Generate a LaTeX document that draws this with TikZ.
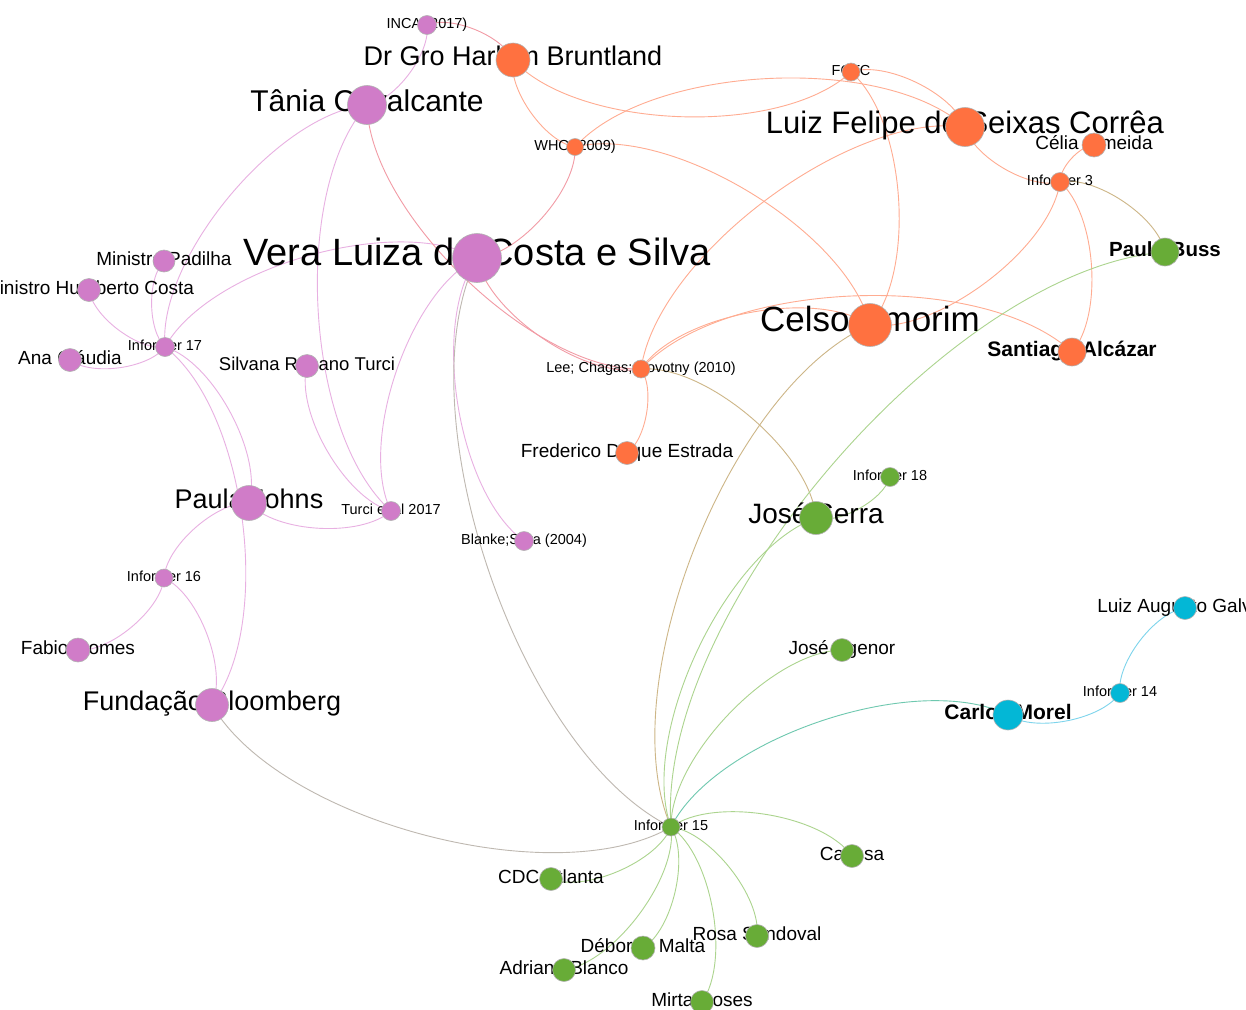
\documentclass[tikz,border=0pt]{standalone}
\usepackage{fontspec}
\setmainfont{Liberation Sans}
\pgfdeclarelayer{bg}
\pgfdeclarelayer{lab}
\pgfsetlayers{bg,lab,main}
\definecolor{cpk}{RGB}{208,124,200}
\definecolor{cor}{RGB}{255,113,64}
\definecolor{cgr}{RGB}{104,172,55}
\definecolor{ccy}{RGB}{3,183,214}
\definecolor{ePPc}{RGB}{232,176,226}
\definecolor{eOOc}{RGB}{255,172,145}
\definecolor{ePOc}{RGB}{242,155,165}
\definecolor{eOGc}{RGB}{205,182,135}
\definecolor{ePGc}{RGB}{190,184,176}
\definecolor{eGGc}{RGB}{172,212,142}
\definecolor{eGCc}{RGB}{110,200,175}
\definecolor{eCCc}{RGB}{125,212,236}
\tikzset{
  lbl/.style={anchor=base, inner sep=0pt, text=black},
  dot/.style={circle, draw=black!30, line width=0.6pt, inner sep=0pt},
  gc/.style={bend left=45, looseness=0.7225},
  eline/.style={line width=0.9pt},
  ePP/.style={eline, draw=ePPc},
  eOO/.style={eline, draw=eOOc},
  ePO/.style={eline, draw=ePOc},
  eOG/.style={eline, draw=eOGc},
  ePG/.style={eline, draw=ePGc},
  eGG/.style={eline, draw=eGGc},
  eGC/.style={eline, draw=eGCc},
  eCC/.style={eline, draw=eCCc},
}
% name, x, y, radius, colour, font size, text
\newcommand{\gn}[7]{%
  \begin{pgfonlayer}{lab}
    \node[lbl, font={\fontsize{#6}{#6}\selectfont}] (#1L) at (#2,{-#3-0.15*#6-1.5}) {#7};
  \end{pgfonlayer}
  \node[dot, fill=#5, minimum size={2*#4}] (#1) at (#2,-#3) {};
}
\newcommand{\ed}[3]{\draw[#1] (#2.center) to[gc] (#3.center);}
\begin{document}
\begin{tikzpicture}[x=1pt, y=1pt]
\useasboundingbox (0,0) rectangle (1246,-1009);
\begin{pgfonlayer}{bg}
  \fill[white] (0,0) rectangle (1246,-1009);
\end{pgfonlayer}

\gn{inca}{427}{25}{9.5}{cpk}{14.5}{INCA (2017)}
\gn{brunt}{513}{60}{17}{cor}{27}{Dr Gro Harlem Bruntland}
\gn{tania}{367}{105}{19.5}{cpk}{30}{Tânia Cavalcante}
\gn{who}{575}{147}{8.5}{cor}{14.5}{WHO (2009)}
\gn{fctc}{851}{72}{9}{cor}{14.5}{FCTC}
\gn{lf}{965}{127}{19.5}{cor}{31}{Luiz Felipe de Seixas Corrêa}
\gn{celia}{1094}{145}{12}{cor}{19}{Célia Almeida}
\gn{inf3}{1060}{182}{9.5}{cor}{14.5}{Informer 3}
\gn{vera}{477}{258}{24.5}{cpk}{38}{Vera Luiza da Costa e Silva}
\gn{buss}{1165}{252}{14}{cgr}{20.5}{\bfseries Paulo Buss}
\gn{padilha}{164}{261}{11}{cpk}{19}{Ministro Padilha}
\gn{humberto}{89}{290}{11.5}{cpk}{19}{Ministro Humberto Costa}
\gn{inf17}{165}{347}{9.5}{cpk}{14.5}{Informer 17}
\gn{ana}{70}{360}{11.5}{cpk}{19}{Ana Cláudia}
\gn{silvana}{307}{366}{11.5}{cpk}{18.5}{Silvana Rubano Turci}
\gn{celso}{870}{325}{21.5}{cor}{35}{Celso Amorim}
\gn{santiago}{1072}{352}{14}{cor}{21}{\bfseries Santiago Alcázar}
\gn{lee}{641}{369}{9}{cor}{14.5}{Lee; Chagas; Novotny (2010)}
\gn{fred}{627}{453}{11.5}{cor}{19}{Frederico Duque Estrada}
\gn{inf18}{890}{477}{9.5}{cgr}{14.5}{Informer 18}
\gn{serra}{816}{518}{16.5}{cgr}{28}{José Serra}
\gn{paula}{249}{503}{17.5}{cpk}{27}{Paula Johns}
\gn{turci}{391}{511}{9.5}{cpk}{14.5}{Turci et al 2017}
\gn{blanke}{524}{541}{9.5}{cpk}{14.5}{Blanke;Silva (2004)}
\gn{inf16}{164}{578}{9}{cpk}{14.5}{Informer 16}
\gn{fabio}{78}{650}{12}{cpk}{19}{Fabio Gomes}
\gn{fund}{212}{705}{16.5}{cpk}{27}{Fundação Bloomberg}
\gn{galvao}{1185}{608}{11.5}{ccy}{19}{Luiz Augusto Galvão}
\gn{agenor}{842}{650}{11.5}{cgr}{19}{José Agenor}
\gn{inf14}{1120}{693}{9.5}{ccy}{14.5}{Informer 14}
\gn{morel}{1008}{715}{15}{ccy}{21}{\bfseries Carlos Morel}
\gn{inf15}{671}{827}{9}{cgr}{14.5}{Informer 15}
\gn{carissa}{852}{856}{11.5}{cgr}{19}{Carissa}
\gn{cdc}{551}{879}{11.5}{cgr}{19}{CDC Atlanta}
\gn{deborah}{643}{948}{12}{cgr}{19}{Déborah Malta}
\gn{rosa}{757}{936}{11.5}{cgr}{19}{Rosa Sandoval}
\gn{adriana}{564}{970}{11.5}{cgr}{19}{Adriana Blanco}
\gn{mirta}{702}{1002}{11.5}{cgr}{19}{Mirta Roses}

\begin{pgfonlayer}{bg}
\ed{ePP}{inca}{tania}
\ed{ePO}{inca}{brunt}
\ed{ePP}{inf17}{tania}
\ed{ePP}{turci}{tania}
\ed{ePP}{turci}{vera}
\ed{ePP}{turci}{silvana}
\ed{ePP}{turci}{paula}
\ed{ePP}{inf17}{vera}
\ed{ePP}{inf17}{padilha}
\ed{ePP}{inf17}{humberto}
\ed{ePP}{inf17}{ana}
\ed{ePP}{blanke}{vera}
\ed{ePG}{inf15}{vera}
\ed{ePG}{inf15}{fund}
\ed{ePP}{inf17}{paula}
\ed{ePP}{inf17}{fund}
\ed{ePP}{inf16}{paula}
\ed{ePP}{inf16}{fabio}
\ed{ePP}{inf16}{fund}
\ed{ePO}{lee}{tania}
\ed{ePO}{lee}{vera}
\ed{ePO}{who}{vera}
\ed{eOO}{who}{brunt}
\ed{eOO}{fctc}{brunt}
\ed{eOO}{who}{lf}
\ed{eOO}{fctc}{lf}
\ed{eOO}{who}{celso}
\ed{eOO}{lee}{lf}
\ed{eOO}{fctc}{celso}
\ed{eOO}{inf3}{lf}
\ed{eOO}{inf3}{celia}
\ed{eOO}{inf3}{celso}
\ed{eOO}{inf3}{santiago}
\ed{eOG}{inf3}{buss}
\ed{eOO}{lee}{santiago}
\ed{eOO}{lee}{celso}
\ed{eOO}{lee}{fred}
\ed{eOG}{lee}{serra}
\ed{eOG}{inf15}{celso}
\ed{eGG}{inf15}{buss}
\ed{eGG}{inf15}{serra}
\ed{eGG}{inf18}{serra}
\ed{eGG}{inf15}{agenor}
\ed{eGC}{inf15}{morel}
\ed{eCC}{inf14}{morel}
\ed{eCC}{inf14}{galvao}
\ed{eGG}{inf15}{carissa}
\ed{eGG}{inf15}{cdc}
\ed{eGG}{inf15}{deborah}
\ed{eGG}{inf15}{adriana}
\ed{eGG}{inf15}{mirta}
\ed{eGG}{inf15}{rosa}
\end{pgfonlayer}
\end{tikzpicture}
\end{document}
